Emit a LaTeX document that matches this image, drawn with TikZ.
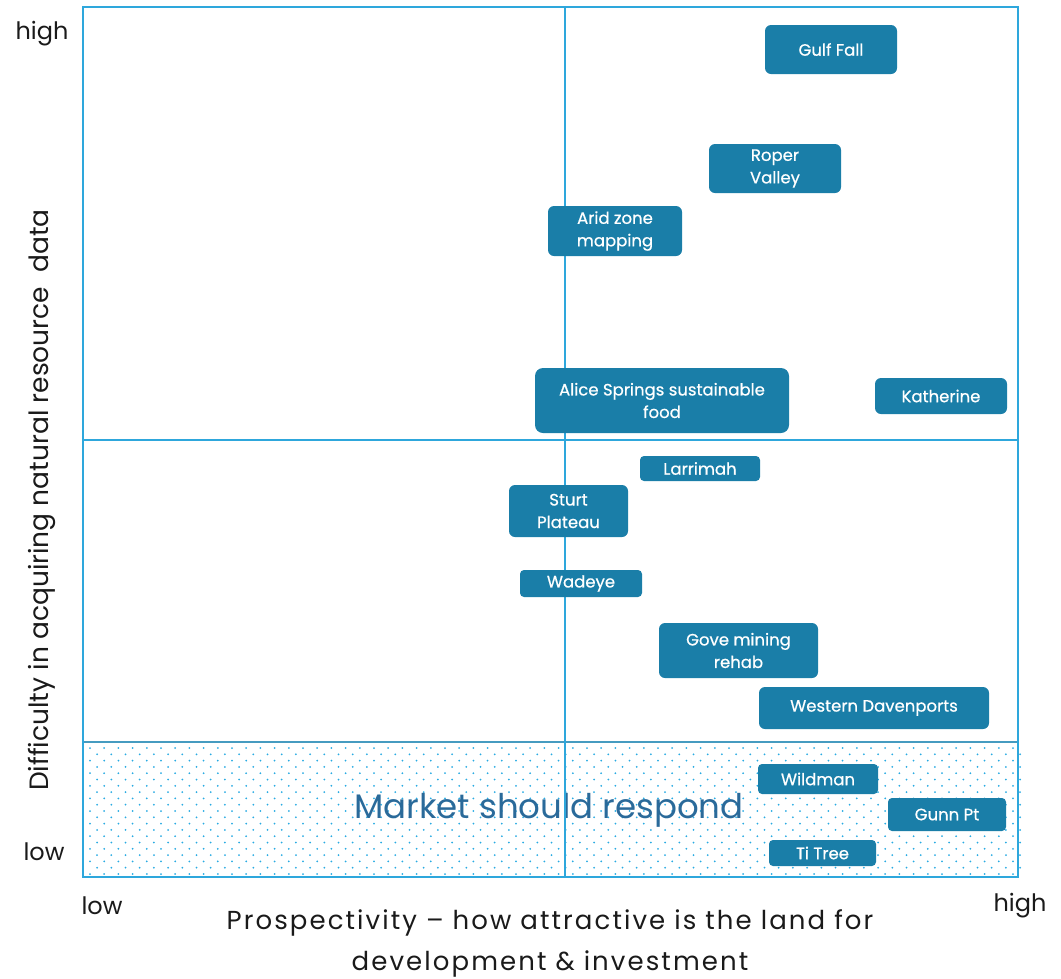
\documentclass[tikz,border=0pt]{standalone}
\usepackage{fontspec}
\setmainfont{Poppins}
\newfontfamily\boxfont{Poppins}[FakeBold=0.6]
\newfontfamily\xtfont{Poppins}[LetterSpace=8]
\definecolor{boxblue}{HTML}{1A7EA8}
\definecolor{linecol}{HTML}{2EA7DC}
\definecolor{dotcol}{HTML}{29ABE2}
\definecolor{mkt}{HTML}{2A6A9A}
\definecolor{txt}{HTML}{1A1A1A}
\begin{document}
\begin{tikzpicture}[x=1pt,y=-1pt,
  box/.style={fill=boxblue,draw=none,rounded corners=6pt,text=white,align=center,
    font=\boxfont\fontsize{16.5}{22.5}\selectfont,inner sep=0pt},
  axlab/.style={text=txt,font=\fontsize{24}{28}\selectfont},
  axtitle/.style={text=txt,align=center,font=\xtfont\fontsize{26}{41}\selectfont},
  ytitle/.style={text=txt,font=\fontsize{26.5}{30}\selectfont},
  grid/.style={draw=linecol,line width=1.8pt}]
\useasboundingbox (0,0) rectangle (1061,978);
% dotted region
\foreach \r in {0,...,20}{
  \foreach \c in {0,...,65}{
    \fill[dotcol] ({90+\c*14.2+mod(\r,2)*7.1},{748+\r*6.3}) circle (1.0);
  }
}
\node[text=mkt,font=\fontsize{34}{38}\selectfont] (mkt) at (549,810) {Market should respond};
% frame
\coordinate (tl) at (83,7);
\coordinate (br) at (1018,877);
\coordinate (mt) at (565,7);
\coordinate (mb) at (565,877);
\coordinate (hl) at (83,440);
\coordinate (hr) at (1018,440);
\coordinate (dl) at (83,742);
\coordinate (dr) at (1018,742);
\draw[draw=linecol!70!gray,line width=1.6pt] (dl) -- (dr);
\draw[grid] (tl) rectangle (br);
\draw[grid] (mt) -- (mb);
\draw[grid] (hl) -- (hr);
% boxes
\node[box,minimum width=132,minimum height=49] (gulf) at (831,49.5) {Gulf Fall};
\node[box,minimum width=132,minimum height=49] (roper) at (775,168.5) {Roper\\Valley};
\node[box,minimum width=134,minimum height=50] (arid) at (615,231) {Arid zone\\mapping};
\node[box,minimum width=254,minimum height=65,rounded corners=8pt] (alice) at (662,400.5) {Alice Springs sustainable\\food};
\node[box,minimum width=132,minimum height=36] (kath) at (941,396) {Katherine};
\node[box,minimum width=120,minimum height=25,rounded corners=4pt] (larr) at (700,468.5) {Larrimah};
\node[box,minimum width=119,minimum height=52] (sturt) at (568.5,511) {Sturt\\Plateau};
\node[box,minimum width=122,minimum height=27,rounded corners=4pt] (wad) at (581,583.5) {Wadeye};
\node[box,minimum width=159,minimum height=55] (gove) at (738.5,650.5) {Gove mining\\rehab};
\node[box,minimum width=230,minimum height=42] (west) at (874,708) {Western Davenports};
\node[box,minimum width=120,minimum height=30,rounded corners=4pt] (wild) at (818,779) {Wildman};
\node[box,minimum width=118,minimum height=33,rounded corners=4pt] (gunn) at (947,814.5) {Gunn Pt};
\node[box,minimum width=107,minimum height=26,rounded corners=4pt] (titree) at (822.5,853) {Ti Tree};
% axis labels
\node[axlab] (yhigh) at (42,34) {high};
\node[axlab] (ylow) at (44,852) {low};
\node[axlab] (xlow) at (102,906) {low};
\node[axlab] (xhigh) at (1020,906) {high};
\node[axtitle] (xt) at (550,943) {Prospectivity – how attractive is the land for\\development \& investment};
\node[ytitle,rotate=90] (yt) at (42,500) {Difficulty in acquiring natural resource\ \ data};
\end{tikzpicture}
\end{document}
